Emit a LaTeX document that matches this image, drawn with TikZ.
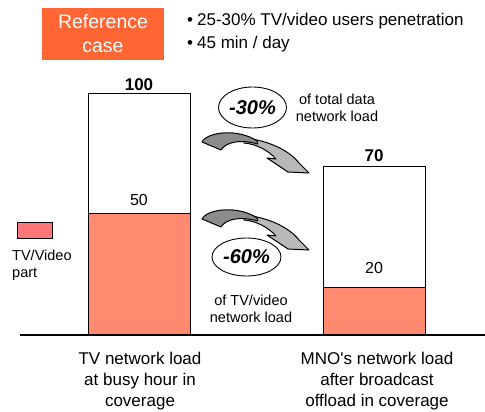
\documentclass[tikz,border=0pt]{standalone}
\usepackage{fontspec}
\setmainfont{Liberation Sans}
\usetikzlibrary{shapes.geometric}
\definecolor{refor}{HTML}{FF6633}
\definecolor{barfill}{HTML}{FF8A70}
\definecolor{legfill}{HTML}{FF7878}
\definecolor{arrdark}{HTML}{8C8C8C}
\definecolor{arrlight}{HTML}{B8B8B8}
\tikzset{
  refbox/.style={fill=refor, text=white, minimum width=122pt, minimum height=52pt, inner sep=0pt, align=center, font=\fontsize{19.5}{24}\selectfont},
  bullettext/.style={anchor=west, inner sep=0pt, font=\fontsize{17}{20}\selectfont},
  barline/.style={draw=black, line width=0.9pt},
  valbold/.style={font=\bfseries\fontsize{17}{20}\selectfont, inner sep=0pt},
  valreg/.style={font=\fontsize{16}{20}\selectfont, inner sep=0pt},
  pct/.style={draw=black, line width=0.9pt, ellipse, inner sep=0pt, font=\bfseries\itshape\fontsize{20}{24}\selectfont},
  small/.style={align=center, inner sep=0pt, font=\fontsize{14.5}{17}\selectfont},
  axislabel/.style={align=center, inner sep=0pt, font=\fontsize{17}{21}\selectfont},
  arrowline/.style={draw=black, line width=1pt, line join=round}
}
\newcommand{\curvearrow}{%
  \filldraw[arrowline, fill=arrlight] (244,138) .. controls (268,140) and (290,151) .. (299,163) -- (309,173) -- (288,172) -- (267,158) -- (276,159) .. controls (268,150) and (256,144) .. (244,143) -- cycle;
  \filldraw[arrowline, fill=arrdark] (202,142) .. controls (207,132) and (238,128) .. (257,141) -- (258,144) .. controls (240,139) and (226,142) .. (221,150) -- cycle;
}
\begin{document}
\begin{tikzpicture}[x=1pt,y=-1pt]
\useasboundingbox (0,0) rectangle (485,412);
\fill[white] (0,0) rectangle (485,412);

\node[refbox] (ref) at (103,34) {Reference\\case};
\node[bullettext] (b1) at (187,21) {\textbullet\hspace{4pt}25-30\% TV/video users penetration};
\node[bullettext] (b2) at (187,44) {\textbullet\hspace{4pt}45 min / day};

% left bar
\fill[barfill] (88,213) rectangle (190,334);
\draw[barline] (88,93) rectangle (190,334);
\draw[barline] (88,213) -- (190,213);
% right bar
\fill[barfill] (323,287) rectangle (425,334);
\draw[barline] (323,166) rectangle (425,334);
\draw[barline] (323,287) -- (425,287);

\draw[line width=2pt] (20,334.5) -- (485,334.5);

\node[valbold] (v100) at (139,85) {100};
\node[valreg] (v50) at (139,200) {50};
\node[valbold] (v70) at (374,156) {70};
\node[valreg] (v20) at (374,268) {20};

% legend
\draw[barline, fill=legfill] (17,222) rectangle (52,238);
\node[anchor=west, align=left, inner sep=0pt, font=\fontsize{14.5}{17}\selectfont] (leg) at (12,265.5) {TV/Video\\part};

% arrows
\curvearrow
\begin{scope}[shift={(0,77)}]
\curvearrow
\end{scope}

\node[pct, minimum width=68pt, minimum height=41pt] (e1) at (252.5,107.5) {-30\%};
\node[pct, minimum width=69pt, minimum height=38pt] (e2) at (246.5,257) {-60\%};

\node[small] (t1) at (337,107.5) {of total data\\network load};
\node[small] (t2) at (251,308.5) {of TV/video\\network load};

\node[axislabel] (l1) at (140,381) {TV network load\\at busy hour in\\coverage};
\node[axislabel] (l2) at (377,381) {MNO\textquotesingle s network load\\after broadcast\\offload in coverage};
\end{tikzpicture}
\end{document}
